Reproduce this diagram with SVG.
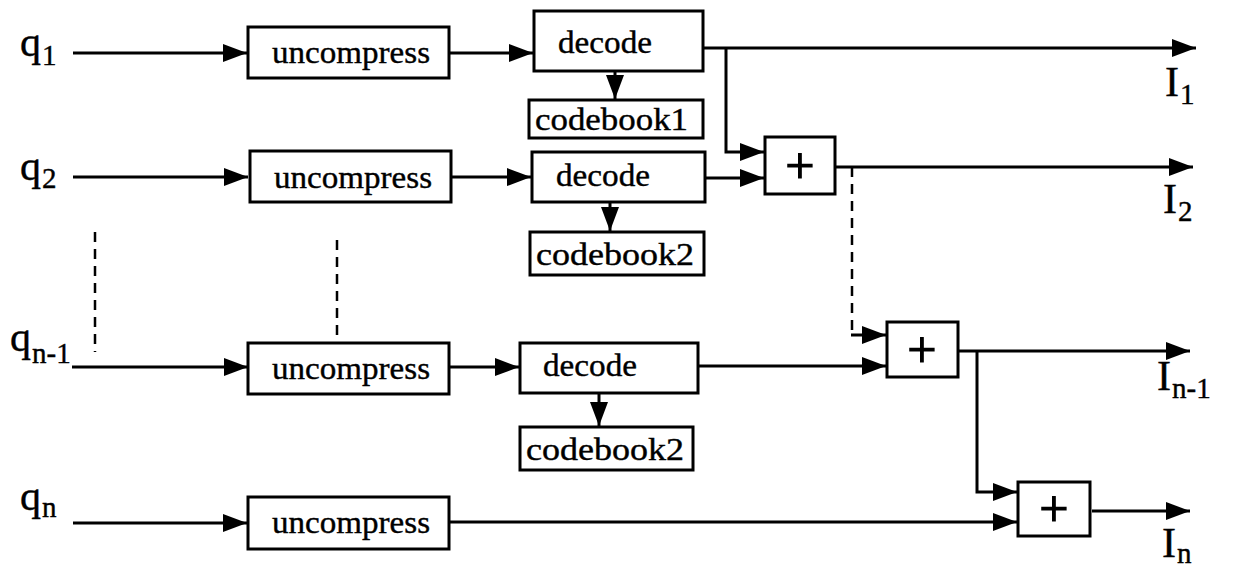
<svg xmlns="http://www.w3.org/2000/svg" width="1237" height="567" viewBox="0 0 1237 567">
<defs>
<marker id="ah" markerUnits="userSpaceOnUse" markerWidth="26" markerHeight="20" refX="24" refY="9" orient="auto">
<path d="M0,0 L24,9 L0,18 z" fill="#000"/>
</marker>
<style>
.box{fill:#fff;stroke:#000;stroke-width:3}
.ln{fill:none;stroke:#000;stroke-width:3}
.dash{fill:none;stroke:#000;stroke-width:2.5;stroke-dasharray:10 7}
.t{font-family:"Liberation Serif","Times New Roman",serif;font-size:32px;fill:#000;stroke:#000;stroke-width:0.4}
.lab{font-family:"Liberation Serif","Times New Roman",serif;font-size:42px;fill:#000;stroke:#000;stroke-width:0.4}
.sub{font-family:"Liberation Serif","Times New Roman",serif;font-size:29px;fill:#000;stroke:#000;stroke-width:0.4}
.plus{font-family:"Liberation Serif","Times New Roman",serif;font-size:52px;fill:#000;stroke:#000;stroke-width:1.2;text-anchor:middle}
</style>
</defs>
<rect width="1237" height="567" fill="#fff"/>

<g id="connectors">
<path class="ln" d="M73,53 H247" marker-end="url(#ah)"/>
<path class="ln" d="M449,53 H533" marker-end="url(#ah)"/>
<path class="ln" d="M703,48 H1196" marker-end="url(#ah)"/>
<path class="ln" d="M615,71 V99" marker-end="url(#ah)"/>
<path class="ln" d="M726,48 V152 H764" marker-end="url(#ah)"/>

<path class="ln" d="M73,177 H248" marker-end="url(#ah)"/>
<path class="ln" d="M451,177 H531" marker-end="url(#ah)"/>
<path class="ln" d="M705,178 H764" marker-end="url(#ah)"/>
<path class="ln" d="M610,202 V231" marker-end="url(#ah)"/>
<path class="ln" d="M835,167 H1193" marker-end="url(#ah)"/>
<path class="dash" d="M852,167 V335"/>
<path class="ln" d="M851,335 H886" marker-end="url(#ah)"/>

<path class="dash" d="M95,232 V352"/>
<path class="dash" d="M337,240 V338"/>
<path class="ln" d="M72,367 H248" marker-end="url(#ah)"/>
<path class="ln" d="M449,367 H519" marker-end="url(#ah)"/>
<path class="ln" d="M698,366 H886" marker-end="url(#ah)"/>
<path class="ln" d="M599,393 V426" marker-end="url(#ah)"/>
<path class="ln" d="M958,351 H1190" marker-end="url(#ah)"/>
<path class="ln" d="M977,351 V492 H1017" marker-end="url(#ah)"/>

<path class="ln" d="M73,523 H247" marker-end="url(#ah)"/>
<path class="ln" d="M449,522 H1017" marker-end="url(#ah)"/>
<path class="ln" d="M1092,511 H1190" marker-end="url(#ah)"/>
</g>

<g id="q1"><text class="lab" x="20" y="56">q</text><text class="sub" x="42" y="65">1</text></g>
<g id="q2"><text class="lab" x="20" y="180">q</text><text class="sub" x="42" y="188">2</text></g>
<g id="qn-1"><text class="lab" x="10" y="351">q</text><text class="sub" x="32" y="363">n-1</text></g>
<g id="qn"><text class="lab" x="20" y="510">q</text><text class="sub" x="42" y="517">n</text></g>

<g id="uncompress1"><rect class="box" x="248" y="27" width="201" height="51"/><text class="t" x="272" y="63" textLength="158" lengthAdjust="spacingAndGlyphs">uncompress</text></g>
<g id="uncompress2"><rect class="box" x="250" y="151" width="201" height="51"/><text class="t" x="274" y="188" textLength="158" lengthAdjust="spacingAndGlyphs">uncompress</text></g>
<g id="uncompress3"><rect class="box" x="248" y="343" width="201" height="51"/><text class="t" x="272" y="379" textLength="158" lengthAdjust="spacingAndGlyphs">uncompress</text></g>
<g id="uncompress4"><rect class="box" x="248" y="497" width="201" height="52"/><text class="t" x="272" y="533" textLength="158" lengthAdjust="spacingAndGlyphs">uncompress</text></g>

<g id="decode1"><rect class="box" x="534" y="11" width="169" height="60"/><text class="t" x="558" y="53" textLength="94" lengthAdjust="spacingAndGlyphs">decode</text></g>
<g id="decode2"><rect class="box" x="532" y="152" width="173" height="50"/><text class="t" x="556" y="186" textLength="94" lengthAdjust="spacingAndGlyphs">decode</text></g>
<g id="decode3"><rect class="box" x="520" y="343" width="178" height="50"/><text class="t" x="543" y="376" textLength="94" lengthAdjust="spacingAndGlyphs">decode</text></g>

<g id="codebook1"><rect class="box" x="529" y="100" width="174" height="38"/><text class="t" x="535" y="130" textLength="153" lengthAdjust="spacingAndGlyphs">codebook1</text></g>
<g id="codebook2a"><rect class="box" x="530" y="232" width="174" height="43"/><text class="t" x="536" y="265" textLength="158" lengthAdjust="spacingAndGlyphs">codebook2</text></g>
<g id="codebook2b"><rect class="box" x="520" y="427" width="173" height="43"/><text class="t" x="526" y="460" textLength="158" lengthAdjust="spacingAndGlyphs">codebook2</text></g>

<g id="plus1"><rect class="box" x="765" y="137" width="70" height="57"/><text class="plus" x="800" y="183">+</text></g>
<g id="plus2"><rect class="box" x="887" y="322" width="71" height="55"/><text class="plus" x="922" y="367">+</text></g>
<g id="plus3"><rect class="box" x="1018" y="482" width="72" height="54"/><text class="plus" x="1054" y="526">+</text></g>

<g id="I1"><text class="lab" x="1165" y="96">I</text><text class="sub" x="1180" y="104">1</text></g>
<g id="I2"><text class="lab" x="1163" y="213">I</text><text class="sub" x="1178" y="221">2</text></g>
<g id="In-1"><text class="lab" x="1157" y="390">I</text><text class="sub" x="1172" y="398">n-1</text></g>
<g id="In"><text class="lab" x="1162" y="557">I</text><text class="sub" x="1177" y="563">n</text></g>
</svg>
